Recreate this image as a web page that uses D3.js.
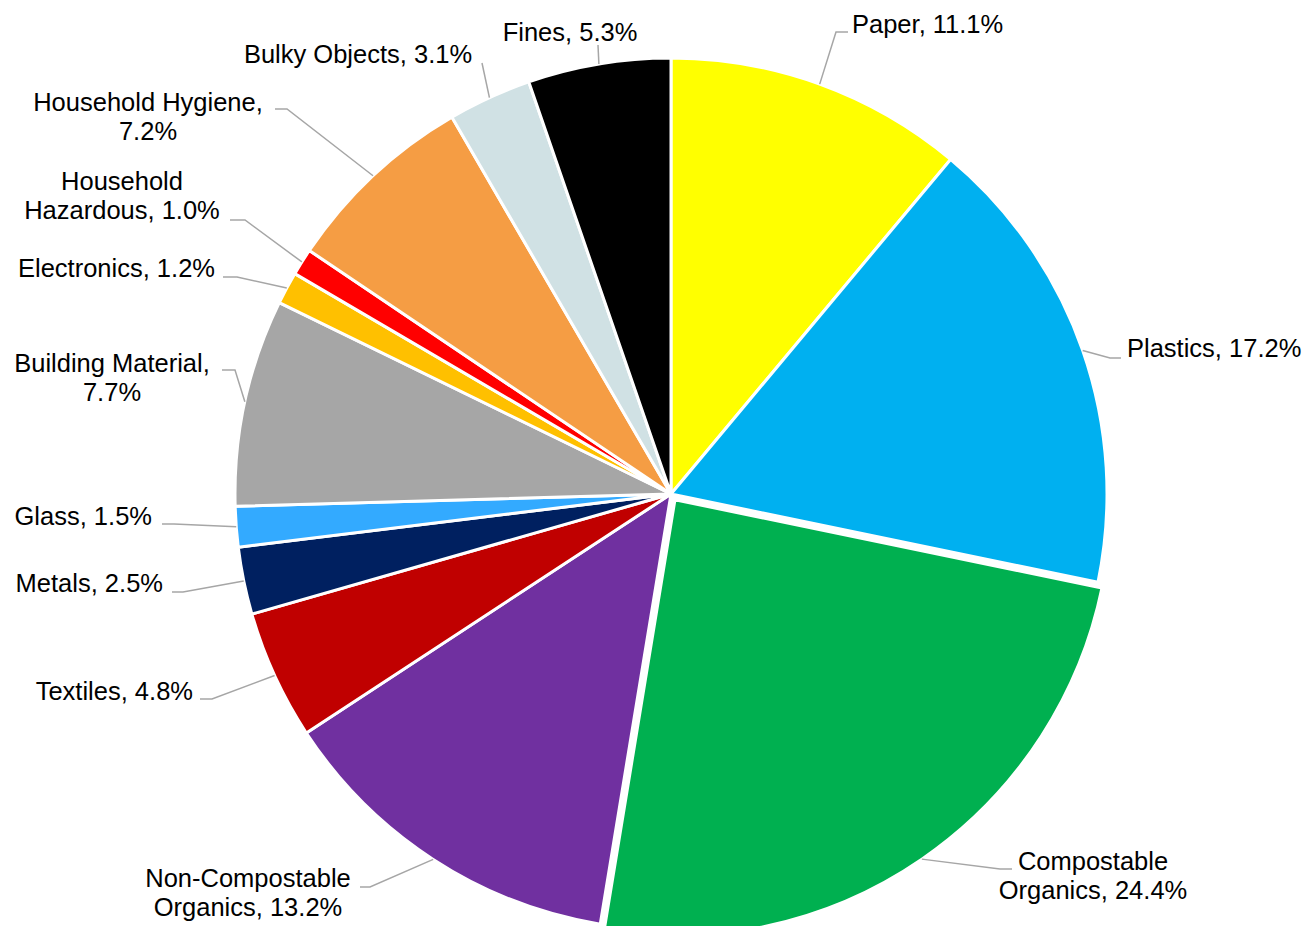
<!DOCTYPE html>
<html>
<head>
<meta charset="utf-8">
<script src="https://cdn.jsdelivr.net/npm/d3@7"></script>
<style>
  html, body { margin: 0; padding: 0; background: #fff; }
  svg text { font-family: Arial, "Liberation Sans", sans-serif; fill: #000; }
</style>
</head>
<body>
<div id="chart"></div>
<script>
// ---- Data (clockwise from 12 o'clock) ----
const categories = [
  "Paper", "Plastics", "Compostable Organics", "Non-Compostable Organics",
  "Textiles", "Metals", "Glass", "Building Material", "Electronics",
  "Household Hazardous", "Household Hygiene", "Bulky Objects", "Fines"
];
const shares = [11.1, 17.2, 24.4, 13.2, 4.8, 2.5, 1.5, 7.7, 1.2, 1.0, 7.2, 3.1, 5.3];
const colors = [
  "#FFFF00", "#00B0F0", "#00B050", "#7030A0", "#C00000", "#002060", "#33AAFF",
  "#A6A6A6", "#FFC000", "#FF0000", "#F59D44", "#D0E1E4", "#000000"
];

// ---- Label layout (text anchor position, wrapping, where the leader meets the text) ----
const labelLayout = {
  "Paper":                    { x: 852,  y: 33,  anchor: "start",  wrap: 0, hook: [848, 32],  elbow: -12 },
  "Plastics":                 { x: 1127, y: 357, anchor: "start",  wrap: 0, hook: [1121, 358], elbow: -11 },
  "Compostable Organics":     { x: 1093, y: 870, anchor: "middle", wrap: 1, hook: [1012, 869], elbow: -12 },
  "Non-Compostable Organics": { x: 248,  y: 887, anchor: "middle", wrap: 1, hook: [360, 887],  elbow: 10 },
  "Textiles":                 { x: 193,  y: 700, anchor: "end",    wrap: 0, hook: [200, 699],  elbow: 12 },
  "Metals":                   { x: 163,  y: 592, anchor: "end",    wrap: 0, hook: [172, 592],  elbow: 11 },
  "Glass":                    { x: 152,  y: 525, anchor: "end",    wrap: 0, hook: [162, 524],  elbow: 12 },
  "Building Material":        { x: 112,  y: 372, anchor: "middle", wrap: 2, hook: [222, 370],  elbow: 13 },
  "Electronics":              { x: 215,  y: 277, anchor: "end",    wrap: 0, hook: [223, 277],  elbow: 14 },
  "Household Hazardous":      { x: 122,  y: 190, anchor: "middle", wrap: 1, hook: [230, 220],  elbow: 15 },
  "Household Hygiene":        { x: 148,  y: 111, anchor: "middle", wrap: 2, hook: [275, 109],  elbow: 12 },
  "Bulky Objects":            { x: 358,  y: 63,  anchor: "middle", wrap: 0, hook: [482, 63],   elbow: 0 },
  "Fines":                    { x: 570,  y: 41,  anchor: "middle", wrap: 0, hook: [598, 45],   elbow: 0 }
};
const explode = { "Compostable Organics": 7 };

// ---- Geometry ----
const W = 1313, H = 926;
const cx = 671, cy = 494, R = 436;
const fontSize = 25.5, lineGap = 29;

const svg = d3.select("#chart").append("svg")
  .attr("width", W).attr("height", H)
  .attr("viewBox", `0 0 ${W} ${H}`);

const data = categories.map((c, i) => ({ name: c, value: shares[i], color: colors[i] }));

const pie = d3.pie().sort(null).value(d => d.value);
const arcs = pie(data);

const arc = d3.arc().innerRadius(0).outerRadius(R);
const rim = d3.arc().innerRadius(R).outerRadius(R);

function shift(d) {
  const off = explode[d.data.name] || 0;
  const mid = (d.startAngle + d.endAngle) / 2;
  return [Math.sin(mid) * off, -Math.cos(mid) * off];
}

const g = svg.append("g").attr("transform", `translate(${cx},${cy})`);

// ---- Slices ----
g.selectAll("path.slice")
  .data(arcs)
  .join("path")
  .attr("class", "slice")
  .attr("d", arc)
  .attr("transform", d => `translate(${shift(d)})`)
  .attr("fill", d => d.data.color)
  .attr("stroke", "#fff")
  .attr("stroke-width", 3)
  .attr("stroke-linejoin", "round");

// ---- Leader lines ----
svg.append("g").selectAll("polyline")
  .data(arcs)
  .join("polyline")
  .attr("fill", "none")
  .attr("stroke", "#A6A6A6")
  .attr("stroke-width", 1.5)
  .attr("points", d => {
    const L = labelLayout[d.data.name];
    const [ox, oy] = shift(d);
    const [px, py] = rim.centroid(d);
    const pts = [[cx + px + ox, cy + py + oy]];
    if (L.elbow) pts.push([L.hook[0] + L.elbow, L.hook[1]]);
    pts.push(L.hook);
    return pts.map(p => p.join(",")).join(" ");
  });

// ---- Labels ----
const labels = svg.append("g").selectAll("text")
  .data(arcs)
  .join("text")
  .attr("font-size", fontSize)
  .attr("text-anchor", d => labelLayout[d.data.name].anchor)
  .attr("x", d => labelLayout[d.data.name].x)
  .attr("y", d => labelLayout[d.data.name].y);

labels.each(function(d) {
  const L = labelLayout[d.data.name];
  const words = `${d.data.name}, ${d.data.value.toFixed(1)}%`.split(" ");
  const rows = L.wrap ? [words.slice(0, L.wrap).join(" "), words.slice(L.wrap).join(" ")]
                      : [words.join(" ")];
  d3.select(this).selectAll("tspan")
    .data(rows)
    .join("tspan")
    .attr("x", L.x)
    .attr("dy", (r, i) => i ? lineGap : 0)
    .text(r => r);
});
</script>
</body>
</html>
